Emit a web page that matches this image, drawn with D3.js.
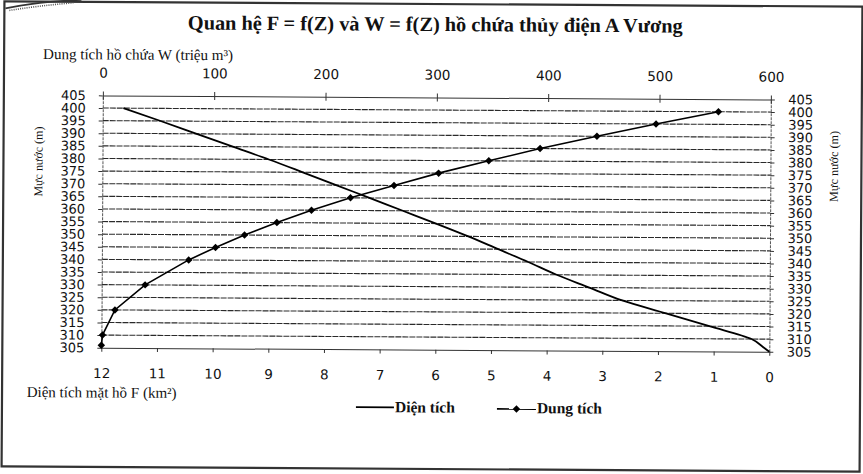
<!DOCTYPE html>
<html>
<head>
<meta charset="utf-8">
<script src="https://cdn.jsdelivr.net/npm/d3@7"></script>
<style>
  html, body { margin: 0; padding: 0; background: #fff; }
  svg { display: block; }
</style>
</head>
<body>
<svg id="chart" width="863" height="474"></svg>
<script>
// ---- Data ----
const levelsF = [400, 395, 390, 385, 380, 375, 370, 365, 360, 355, 350, 345, 340, 335, 330, 325, 320, 315, 310, 307, 305];
const areaF   = [11.63, 10.96, 10.31, 9.66, 9.01, 8.40, 7.80, 7.20, 6.60, 6.00, 5.42, 4.88, 4.34, 3.83, 3.24, 2.65, 1.86, 1.08, 0.32, 0.12, 0];

const levelsW = [306, 310, 320, 330, 340, 345, 350, 355, 360, 365, 370, 375, 380, 385, 390, 395, 400];
const volumeW = [0, 1, 12, 39, 78, 102, 128, 157, 188, 223, 262, 302, 347, 393, 444, 497, 553];

const zTicks = [305, 310, 315, 320, 325, 330, 335, 340, 345, 350, 355, 360, 365, 370, 375, 380, 385, 390, 395, 400, 405];
const wTicks = [0, 100, 200, 300, 400, 500, 600];
const fTicks = [12, 11, 10, 9, 8, 7, 6, 5, 4, 3, 2, 1, 0];

const titleText = "Quan hệ F = f(Z) và W = f(Z) hồ chứa thủy điện A Vương";
const wAxisTitle = "Dung tích hồ chứa W (triệu m³)";
const fAxisTitle = "Diện tích mặt hồ F (km²)";
const zAxisTitle = "Mực nước (m)";
const legendF = "Diện tích";
const legendW = "Dung tích";

// ---- Layout ----
const plot = { left: 102, right: 770, top: 97.4, bottom: 349.7 };
const serif = "'Liberation Serif', 'Times New Roman', serif";
const sans = "'DejaVu Sans', sans-serif";
const ink = "#111";

const svg = d3.select("#chart");
svg.append("rect").attr("width", 863).attr("height", 474).attr("fill", "#fff");

// the scanned page is slightly rotated
const g = svg.append("g").attr("transform", "rotate(0.35 431 237)");

// page frame
g.append("rect")
  .attr("x", 3).attr("y", 4).attr("width", 858).attr("height", 465)
  .attr("fill", "none").attr("stroke", "#333").attr("stroke-width", 2.2);
g.append("path").attr("d", "M4,11 Q35,4 80,2")
  .attr("fill", "none").attr("stroke", "#333").attr("stroke-width", 1.6);
g.append("path").attr("d", "M8,13 Q38,8 72,5")
  .attr("fill", "none").attr("stroke", "#555").attr("stroke-width", 1.6).attr("stroke-dasharray", "1,1.2");

// ---- Scales ----
const y = d3.scaleLinear().domain([305, 405]).range([plot.bottom, plot.top]);
const xW = d3.scaleLinear().domain([0, 600]).range([plot.left, plot.right]);
const xF = d3.scaleLinear().domain([12, 0]).range([plot.left, plot.right]);

// ---- Gridlines ----
g.append("g").selectAll("line")
  .data(zTicks.filter(z => z > 305 && z < 405))
  .join("line")
  .attr("x1", plot.left).attr("x2", plot.right)
  .attr("y1", d => y(d)).attr("y2", d => y(d))
  .attr("stroke", "#2a2a2a").attr("stroke-width", 1.1)
  .attr("stroke-dasharray", "6,1");

// ---- Axes ----
function styleAxis(sel, size) {
  sel.selectAll("text").attr("font-family", sans).attr("font-size", size).attr("fill", ink);
  sel.selectAll("line").attr("stroke", "#333");
  sel.select(".domain").attr("stroke", "#333");
}

const axL = g.append("g").attr("transform", `translate(${plot.left},0)`)
  .call(d3.axisLeft(y).tickValues(zTicks).tickSizeInner(4).tickSizeOuter(0).tickPadding(13).tickFormat(d3.format("d")));
styleAxis(axL, 13);
axL.select(".domain").attr("stroke-dasharray", "3,1").attr("stroke", "#555");

const axR = g.append("g").attr("transform", `translate(${plot.right},0)`)
  .call(d3.axisRight(y).tickValues(zTicks).tickSizeInner(4).tickSizeOuter(0).tickPadding(13.5).tickFormat(d3.format("d")));
styleAxis(axR, 13);
axR.select(".domain").attr("stroke-dasharray", "3,1").attr("stroke", "#555");

const axT = g.append("g").attr("transform", `translate(0,${plot.top})`)
  .call(d3.axisTop(xW).tickValues(wTicks).tickSizeInner(4).tickSizeOuter(0).tickPadding(13.8).tickFormat(d3.format("d")));
styleAxis(axT, 13.5);
axT.selectAll(".tick line").attr("y1", 4);

const axB = g.append("g").attr("transform", `translate(0,${plot.bottom})`)
  .call(d3.axisBottom(xF).tickValues(fTicks).tickSizeInner(4).tickSizeOuter(0).tickPadding(16.7).tickFormat(d3.format("d")));
styleAxis(axB, 13.5);

// ---- Series ----
const dataF = levelsF.map((z, i) => ({ z, v: areaF[i] }));
const dataW = levelsW.map((z, i) => ({ z, v: volumeW[i] }));

g.append("path").datum(dataF)
  .attr("fill", "none").attr("stroke", "#000").attr("stroke-width", 1.8)
  .attr("d", d3.line().x(d => xF(d.v)).y(d => y(d.z)).curve(d3.curveMonotoneY));

g.append("path").datum(dataW)
  .attr("fill", "none").attr("stroke", "#000").attr("stroke-width", 1.6)
  .attr("d", d3.line().x(d => xW(d.v)).y(d => y(d.z)));

const diamond = d3.symbol().type(d3.symbolSquare).size(28);
g.append("g").selectAll("path")
  .data(dataW).join("path")
  .attr("d", diamond)
  .attr("transform", d => `translate(${xW(d.v)},${y(d.z)}) rotate(45)`)
  .attr("fill", "#000");

// ---- Texts: font size chosen so the natural width fits the reference width ----
function fitText(sel, width, base) {
  const n = sel.node();
  const w = n.getComputedTextLength();
  if (w > 0) sel.attr("font-size", (base * width / w).toFixed(2));
  return sel;
}

fitText(g.append("text").attr("x", 434).attr("y", 31)
  .attr("text-anchor", "middle").attr("font-family", serif).attr("font-weight", "bold")
  .attr("font-size", 19).attr("fill", ink).text(titleText), 495, 19);

fitText(g.append("text").attr("x", 42).attr("y", 61.4)
  .attr("font-family", serif).attr("font-size", 13.5).attr("fill", ink).text(wAxisTitle), 190, 13.5);

fitText(g.append("text").attr("x", 27.7).attr("y", 399.5)
  .attr("font-family", serif).attr("font-size", 13.5).attr("fill", ink).text(fAxisTitle), 150, 13.5);

fitText(g.append("text")
  .attr("transform", "translate(42,164) rotate(-90)")
  .attr("text-anchor", "middle").attr("font-family", serif).attr("font-size", 12.5).attr("fill", ink)
  .text(zAxisTitle), 70, 12.5);

fitText(g.append("text")
  .attr("transform", "translate(837.5,164) rotate(-90)")
  .attr("text-anchor", "middle").attr("font-family", serif).attr("font-size", 12.5).attr("fill", ink)
  .text(zAxisTitle), 71, 12.5);

// ---- Legend ----
const lg = g.append("g");
lg.append("line").attr("x1", 357).attr("x2", 395).attr("y1", 407.5).attr("y2", 407.5)
  .attr("stroke", "#000").attr("stroke-width", 1.8);
fitText(lg.append("text").attr("x", 396).attr("y", 412.5)
  .attr("font-family", serif).attr("font-weight", "bold").attr("font-size", 13).attr("fill", ink)
  .text(legendF), 60, 13);

lg.append("line").attr("x1", 498).attr("x2", 537).attr("y1", 408.5).attr("y2", 408.5)
  .attr("stroke", "#000").attr("stroke-width", 1.6);
lg.append("path").attr("d", diamond)
  .attr("transform", "translate(517.5,408.5) rotate(45)").attr("fill", "#000");
fitText(lg.append("text").attr("x", 538).attr("y", 412.5)
  .attr("font-family", serif).attr("font-weight", "bold").attr("font-size", 13).attr("fill", ink)
  .text(legendW), 65, 13);
</script>
</body>
</html>
